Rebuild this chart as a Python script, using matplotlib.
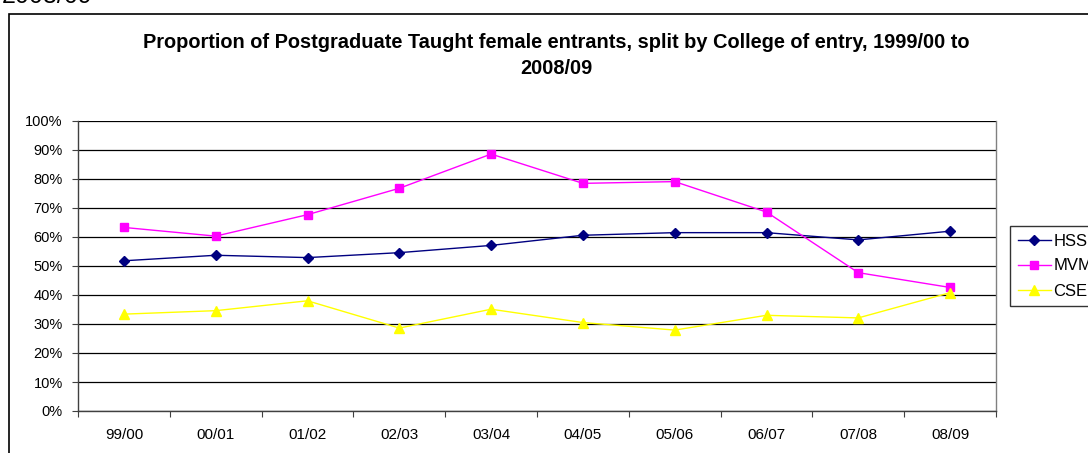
import matplotlib
matplotlib.use("Agg")
import matplotlib.pyplot as plt
from matplotlib.patches import Rectangle
from matplotlib.ticker import FixedLocator, NullFormatter, FixedFormatter

plt.rcParams['font.family'] = ['Liberation Sans', 'DejaVu Sans']

years = ["99/00", "00/01", "01/02", "02/03", "03/04", "04/05", "05/06", "06/07", "07/08", "08/09"]
hss = [51.8, 53.7, 52.9, 54.6, 57.1, 60.6, 61.5, 61.5, 59.0, 62.0]
mvm = [63.3, 60.3, 67.7, 76.8, 88.6, 78.5, 79.1, 68.6, 47.7, 42.6]
cse = [33.4, 34.6, 38.0, 28.6, 35.1, 30.5, 27.9, 33.0, 32.1, 40.8]
yticks = [0, 10, 20, 30, 40, 50, 60, 70, 80, 90, 100]
ytick_labels = [f"{v}%" for v in yticks]

W, H = 1088, 453
fig = plt.figure(figsize=(W / 100, H / 100), dpi=100)
ax = fig.add_axes([78 / W, 1 - 411 / H, (996 - 78) / W, (411 - 121) / H])

x = list(range(len(years)))
ax.plot(x, hss, color='#000080', marker='D', markersize=5, linewidth=1.0, label='HSS')
ax.plot(x, mvm, color='#FF00FF', marker='s', markersize=5.5, linewidth=1.0, label='MVM')
ax.plot(x, cse, color='#FFFF00', marker='^', markersize=6.5, linewidth=1.0, label='CSE')

ax.set_xlim(-0.5, len(years) - 0.5)
ax.set_ylim(0, 100)
ax.set_yticks(yticks)
ax.set_yticklabels(ytick_labels, fontsize=10.5)
ax.yaxis.grid(True, color='#000000', linewidth=0.9)
ax.set_axisbelow(True)

ax.xaxis.set_major_locator(FixedLocator([i - 0.5 for i in range(len(years) + 1)]))
ax.xaxis.set_major_formatter(NullFormatter())
ax.xaxis.set_minor_locator(FixedLocator(x))
ax.xaxis.set_minor_formatter(FixedFormatter(years))
ax.tick_params(axis='x', which='minor', length=0, labelsize=11, pad=12)
ax.tick_params(axis='x', which='major', length=4, color='#404040')
ax.tick_params(axis='y', length=4, color='#404040', pad=7)

for s in ['left', 'bottom']:
    ax.spines[s].set_color('#404040')
    ax.spines[s].set_linewidth(1.0)
ax.spines['top'].set_visible(False)
ax.spines['right'].set_color('#808080')
ax.spines['right'].set_linewidth(1.0)

fig.text(556 / W, 1 - 42 / H, "Proportion of Postgraduate Taught female entrants, split by College of entry, 1999/00 to",
         ha='center', va='center', fontsize=14.4, fontweight='bold')
fig.text(556 / W, 1 - 68 / H, "2008/09", ha='center', va='center', fontsize=14.4, fontweight='bold')

# partially visible text at the very top
fig.text(2 / W, 1 - (-4) / H, "2008/09", ha='left', va='center', fontsize=18, color='#000000')

# outer chart frame
fig.patches.append(Rectangle((9 / W, -0.1), 1.2, 1 - 14 / H + 0.1, transform=fig.transFigure,
                             fill=False, edgecolor='#000000', linewidth=1.2, clip_on=False))

leg = fig.legend(loc='upper left', bbox_to_anchor=(1010 / W, 1 - 226 / H), fontsize=12,
                 frameon=True, fancybox=False, edgecolor='#000000', handlelength=2.0,
                 borderaxespad=0, labelspacing=0.6, handletextpad=0.15, borderpad=0.45)
leg.get_frame().set_linewidth(1.0)

fig.savefig("out.png", dpi=100)
